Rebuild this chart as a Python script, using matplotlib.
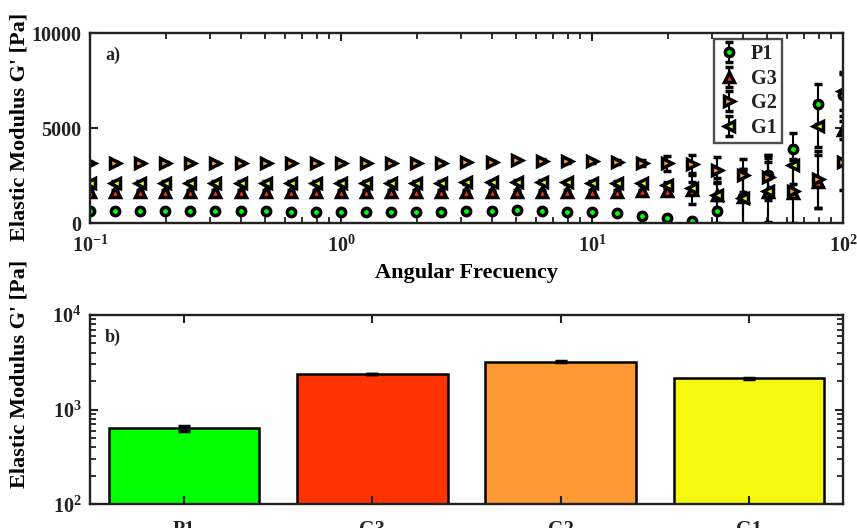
import matplotlib
matplotlib.use("Agg")
import matplotlib.pyplot as plt
from matplotlib.ticker import FixedLocator, FixedFormatter, LogLocator, NullFormatter

plt.rcParams.update({
    "font.family": ["Liberation Serif", "DejaVu Serif"],
    "font.weight": "bold",
    "mathtext.fontset": "custom",
    "mathtext.rm": "Liberation Serif:bold",
    "mathtext.bf": "Liberation Serif:bold",
    "mathtext.it": "Liberation Serif:italic:bold",
    "axes.linewidth": 1.7,
    "axes.edgecolor": "#222222",
    "xtick.color": "#222222",
    "ytick.color": "#222222",
    "text.color": "#222222",
})

# Angular frequency sweep (rad/s)
freq = [0.1, 0.1259, 0.1585, 0.1995, 0.2512, 0.3162, 0.3981, 0.5012, 0.6310, 0.7943,
        1.0, 1.259, 1.585, 1.995, 2.512, 3.162, 3.981, 5.012, 6.310, 7.943,
        10.0, 12.59, 15.85, 19.95, 25.12, 31.62, 39.81, 50.12, 63.10, 79.43, 100.0]

# Elastic modulus G' [Pa] for each sample
P1 = [650, 640, 640, 650, 650, 640, 640, 630, 620, 620,
      620, 620, 610, 610, 620, 670, 660, 700, 660, 620,
      590, 520, 400, 260, 100, 640, 1380, 2520, 3890, 6280, 6750]
G3 = [1650, 1650, 1650, 1650, 1650, 1650, 1650, 1650, 1650, 1650,
      1650, 1650, 1650, 1650, 1660, 1660, 1660, 1660, 1660, 1660,
      1660, 1660, 1680, 1720, 1780, 1500, 1380, 1650, 1620, 2190, 4910]
G2 = [3190, 3190, 3190, 3190, 3190, 3190, 3190, 3190, 3190, 3190,
      3190, 3190, 3190, 3190, 3190, 3230, 3230, 3330, 3300, 3260,
      3260, 3230, 3190, 3160, 3120, 2800, 2520, 2420, 1700, 2310, 3240]
G1 = [2140, 2140, 2140, 2140, 2140, 2140, 2140, 2140, 2140, 2140,
      2140, 2140, 2140, 2140, 2140, 2170, 2170, 2200, 2190, 2170,
      2140, 2120, 2100, 2020, 1850, 1500, 1320, 1720, 3050, 5120, 6960]

P1_err = [40, 40, 40, 40, 40, 40, 40, 40, 40, 40,
          40, 40, 40, 40, 40, 40, 40, 40, 40, 40,
          50, 60, 80, 120, 150, 600, 1500, 1100, 880, 1050, 1100]
G3_err = [80, 80, 80, 80, 80, 80, 80, 80, 80, 80,
          80, 80, 80, 80, 80, 80, 80, 80, 80, 80,
          80, 90, 100, 200, 740, 900, 1500, 1600, 1700, 1400, 470]
G2_err = [60, 60, 60, 60, 60, 60, 60, 60, 60, 60,
          60, 60, 60, 60, 60, 60, 60, 60, 60, 70,
          80, 100, 150, 380, 470, 680, 890, 1200, 1700, 1500, 1500]
G1_err = [80, 80, 80, 80, 80, 80, 80, 80, 80, 80,
          80, 80, 80, 80, 80, 80, 80, 80, 80, 80,
          80, 90, 100, 150, 300, 700, 1400, 1700, 1000, 1100, 1000]

# Bar summary (panel b)
samples = ["P1", "G3", "G2", "G1"]
bar_vals = [635, 2380, 3210, 2140]
bar_err = [45, 25, 35, 30]
colors = ["#00ff00", "#ff3300", "#ff9933", "#f5f80f"]

fig = plt.figure(figsize=(8.57, 5.28), dpi=100)

# ---- panel a) : frequency sweep ----
ax1 = fig.add_axes([0.105, 0.577, 0.8786, 0.360])
series = [("P1", P1, P1_err, "o", colors[0], 6.0),
          ("G3", G3, G3_err, "^", colors[1], 6.8),
          ("G2", G2, G2_err, ">", colors[2], 6.8),
          ("G1", G1, G1_err, "<", colors[3], 6.8)]
for name, vals, err, mk, col, ms in series:
    ax1.errorbar(freq, vals, yerr=err, fmt=mk, ls="none", color="black",
                 ecolor="black", elinewidth=1.5, capsize=3.2, capthick=1.5,
                 markersize=ms, markerfacecolor=col, markeredgecolor="black",
                 markeredgewidth=2.5, label=name, clip_on=True)
ax1.set_xscale("log")
ax1.set_xlim(0.1, 100)
ax1.set_ylim(0, 10000)
ax1.xaxis.set_major_locator(FixedLocator([0.1, 1, 10, 100]))
ax1.xaxis.set_major_formatter(FixedFormatter([r"$\mathbf{10^{-1}}$", r"$\mathbf{10^{0}}$",
                                              r"$\mathbf{10^{1}}$", r"$\mathbf{10^{2}}$"]))
ax1.xaxis.set_minor_locator(LogLocator(base=10, subs=range(2, 10)))
ax1.xaxis.set_minor_formatter(NullFormatter())
ax1.yaxis.set_major_locator(FixedLocator([0, 5000, 10000]))
ax1.tick_params(which="both", direction="in", top=True, right=True, labelsize=14.5)
ax1.tick_params(which="major", length=6, width=1.5, pad=6)
ax1.tick_params(which="minor", length=4, width=1.3)
ax1.tick_params(axis="x", pad=9)
ax1.set_xlabel("Angular Frecuency", fontsize=16, fontweight="bold", labelpad=4)
ax1.set_ylabel("Elastic Modulus G' [Pa]", fontsize=16, fontweight="bold")
ax1.yaxis.set_label_coords(-0.080, 0.505)
ax1.text(0.02, 0.93, "a)", transform=ax1.transAxes, fontsize=13, fontweight="bold",
         va="top", ha="left")
leg = ax1.legend(loc="upper right", bbox_to_anchor=(0.919, 0.968), fontsize=14.5,
                 frameon=True, fancybox=False, edgecolor="#222222", borderaxespad=0,
                 handlelength=1.0, handletextpad=0.6, labelspacing=0.22,
                 borderpad=0.25)
leg.get_frame().set_linewidth(1.7)
for t in leg.get_texts():
    t.set_fontweight("bold")

# ---- panel b) : bar summary ----
ax2 = fig.add_axes([0.105, 0.0449, 0.8786, 0.3585])
pos = [1, 2, 3, 4]
ax2.bar(pos, bar_vals, width=0.8, color=colors, edgecolor="black", linewidth=1.8,
        yerr=bar_err, error_kw=dict(ecolor="black", elinewidth=2.5, capsize=4, capthick=2.5))
ax2.set_yscale("log")
ax2.set_ylim(100, 10000)
ax2.set_xlim(0.5, 4.5)
ax2.set_xticks(pos)
ax2.set_xticklabels(samples)
ax2.yaxis.set_major_locator(FixedLocator([100, 1000, 10000]))
ax2.yaxis.set_major_formatter(FixedFormatter([r"$\mathbf{10^{2}}$", r"$\mathbf{10^{3}}$",
                                              r"$\mathbf{10^{4}}$"]))
ax2.yaxis.set_minor_locator(LogLocator(base=10, subs=range(2, 10)))
ax2.yaxis.set_minor_formatter(NullFormatter())
ax2.tick_params(which="both", direction="in", top=True, right=True, labelsize=14.5)
ax2.tick_params(which="major", length=6, width=1.5, pad=6)
ax2.tick_params(which="minor", length=4, width=1.3)
ax2.tick_params(axis="x", pad=11)
ax2.set_ylabel("Elastic Modulus G' [Pa]", fontsize=16, fontweight="bold")
ax2.yaxis.set_label_coords(-0.080, 0.69)
ax2.text(0.02, 0.93, "b)", transform=ax2.transAxes, fontsize=13, fontweight="bold",
         va="top", ha="left")

fig.savefig("out.png", dpi=100)
